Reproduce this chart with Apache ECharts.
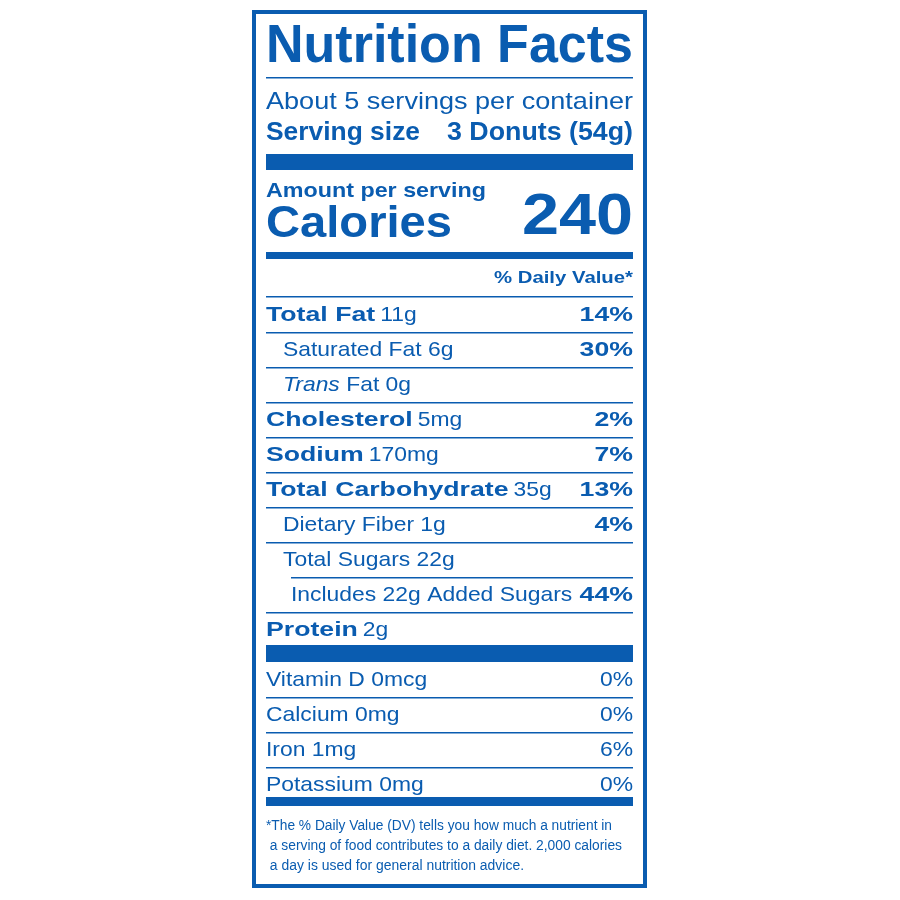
<!DOCTYPE html>
<html><head><meta charset="utf-8">
<script src="https://cdn.jsdelivr.net/npm/echarts@6/dist/echarts.min.js"></script>
<style>html,body{margin:0;background:#fff}#c{width:900px;height:900px}</style>
</head><body><div id="c"></div>
<script>
const servingsText = "About 5 servings per container";
const servingSize = ["Serving size", "3 Donuts (54g)"];
const calories = 240;
const nutrientNames = ["Total Fat","Saturated Fat","Trans Fat","Cholesterol","Sodium","Total Carbohydrate","Dietary Fiber","Total Sugars","Includes 22g Added Sugars","Protein"];
const nutrientAmounts = ["11g","6g","0g","5mg","170mg","35g","1g","22g","","2g"];
const nutrientDV = ["14%","30%","","2%","7%","13%","4%","","44%",""];
const nutrientLevel = [0,1,1,0,0,0,1,1,2,0];
const vitaminNames = ["Vitamin D 0mcg","Calcium 0mg","Iron 1mg","Potassium 0mg"];
const vitaminDV = ["0%","0%","6%","0%"];
const footnote = ["*The % Daily Value (DV) tells you how much a nutrient in"," a serving of food contributes to a daily diet. 2,000 calories"," a day is used for general nutrition advice."];

const C = "#0a5cb0", F = "'Liberation Sans', Arial, sans-serif";
const L = 266, R = 633;
const cv = document.createElement('canvas').getContext('2d');
function w(t, font){ cv.font = font; return cv.measureText(t).width; }
const g = [];
function rect(x,y,wd,h){ g.push({type:'rect',shape:{x,y,width:wd,height:h},style:{fill:C},silent:true}); }
function txt(t,x,y,size,bold,align,opt){
  opt=opt||{};
  const font=(opt.italic?'italic ':'')+(bold?'bold ':'')+size+'px '+F;
  const o={type:'text',x:x,y:y,style:{text:t,font:font,fill:C,align:align||'left',verticalAlign:'middle'},silent:true};
  if(opt.width){ o.scaleX=opt.width/w(t,font); } else if(opt.sx){ o.scaleX=opt.sx; }
  g.push(o); return w(t,font)*(o.scaleX||1);
}
const SB=1.27, SR=1.09;
g.push({type:'rect',shape:{x:254,y:12,width:391,height:874},style:{fill:'none',stroke:C,lineWidth:4},silent:true});
txt("Nutrition Facts",L,47,54,true,'left',{width:R-L});
rect(L,77,R-L,1.5);
txt(servingsText,L,102,24,false,'left',{width:R-L});
txt(servingSize[0],L,133,25,true,'left',{width:154});
txt(servingSize[1],R,133,25,true,'right',{width:186});
rect(L,154,R-L,16);
txt("Amount per serving",L,191,21,true,'left',{width:220});
txt("Calories",L,225,44,true,'left',{width:186});
txt(String(calories),R,218,58,true,'right',{width:111});
rect(L,252,R-L,7);
txt("% Daily Value*",R,278,17,true,'right',{width:139});
rect(L,296,R-L,1.5);
const indent=[0,17,25];
for(let i=0;i<nutrientNames.length;i++){
  const y=315+i*35, x=L+indent[nutrientLevel[i]];
  const name=nutrientNames[i];
  let xx=x;
  if(nutrientLevel[i]===0){ xx+=txt(name,x,y,21,true,'left',{sx:SB}); xx+=5; txt(nutrientAmounts[i],xx,y,21,false,'left',{sx:SR}); }
  else if(name==="Trans Fat"){ xx+=txt("Trans",x,y,21,false,'left',{italic:true,sx:SR}); txt(" Fat "+nutrientAmounts[i],xx,y,21,false,'left',{sx:SR}); }
  else { txt(name+(nutrientAmounts[i]?" "+nutrientAmounts[i]:""),x,y,21,false,'left',{sx:SR}); }
  if(nutrientDV[i]) txt(nutrientDV[i],R,y,21,true,'right',{sx:SB});
  if(i<nutrientNames.length-1){
    const lx = (nutrientLevel[i+1]===2)? L+25 : L;
    rect(lx,y+17,R-lx,1.5);
  }
}
rect(L,645,R-L,17);
for(let i=0;i<vitaminNames.length;i++){
  const y=680+i*35;
  txt(vitaminNames[i],L,y,21,false,'left',{sx:SR});
  txt(vitaminDV[i],R,y,21,false,'right',{sx:SR});
  if(i<vitaminNames.length-1) rect(L,y+17,R-L,1.5);
}
rect(L,797,R-L,9);
footnote.forEach((t,i)=>txt(t,L,826+i*20,14,false,'left',{width:i===2?258:(i===0?346:356)}));
const chart=echarts.init(document.getElementById('c'));
chart.setOption({animation:false,graphic:g});
</script></body></html>
